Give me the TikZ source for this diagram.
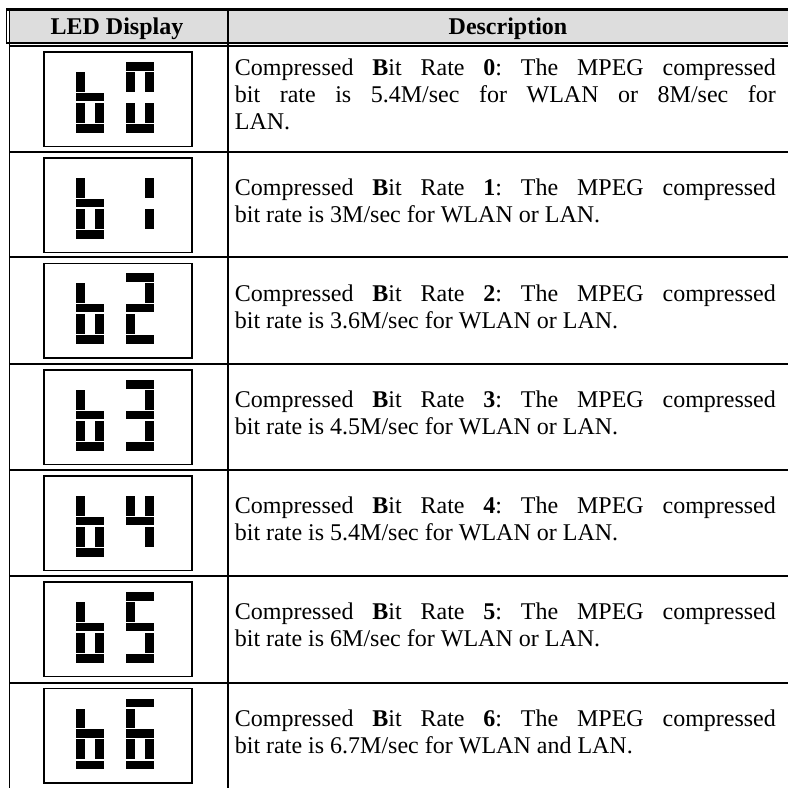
\documentclass[tikz,border=0pt]{standalone}
\usepackage{fontspec}
\setmainfont{Liberation Serif}
\frenchspacing
\definecolor{hdrgray}{RGB}{221,221,221}
\newcommand\ledsegA{\fill (0,10) rectangle (28,18.5);}
\newcommand\ledsegB{\fill (18.8,20) rectangle (28,39.5);}
\newcommand\ledsegC{\fill (18.8,50.5) rectangle (28,70.5);}
\newcommand\ledsegD{\fill (0,72) rectangle (28,80.5);}
\newcommand\ledsegE{\fill (0,50.5) rectangle (9.2,70.5);}
\newcommand\ledsegF{\fill (0,20) rectangle (9.2,39.5);}
\newcommand\ledsegG{\fill (0,40.5) rectangle (28,49);}
\newcommand\leddigit[3]{\begin{scope}[shift={(#1,#2)}]\foreach \s in {#3}{\csname ledseg\s\endcsname}\end{scope}}
\newcommand\ledrow[2]{%
  \draw[ledbox] (44,#1) rectangle (192,#1+94.5);
  \leddigit{76}{#1}{F,G,E,C,D}
  \leddigit{126}{#1}{#2}}
\newcommand\fullline[1]{\makebox[270.5pt][s]{#1}}
\begin{document}
\begin{tikzpicture}[x=0.5pt,y=-0.5pt,
  ledbox/.style={draw=black,line width=0.75pt},
  rowrule/.style={draw=black,line width=1.1pt},
  desc/.style={anchor=base west,inner sep=0pt,font=\fontsize{12}{13.5}\selectfont},
  hdr/.style={anchor=base,inner sep=0pt,font=\fontsize{12}{13.5}\selectfont\bfseries}]
\useasboundingbox (0,0) rectangle (788,788);
% header
\fill[hdrgray] (9.5,10.5) rectangle (788,42);
\draw[line width=1.35pt] (6,9.5) -- (788,9.5);
\draw[line width=0.65pt] (6.7,9) -- (6.7,43);
\draw[line width=0.7pt] (9.4,9) -- (9.4,788);
\draw[line width=1pt] (6,42.7) -- (788,42.7);
\draw[line width=0.85pt] (9,45.8) -- (788,45.8);
\draw[line width=1pt] (228,9) -- (228,788);
\foreach \y in {152,257.3,364,470,576,682.7} \draw[rowrule] (9,\y) -- (788,\y);
\node[hdr] (h1) at (117,34.3) {LED Display};
\node[hdr] (h2) at (508,34.3) {Description};
% LED displays
\ledrow{52}{A,F,B,E,C,D}
\ledrow{158}{B,C}
\ledrow{263.3}{A,B,G,E,D}
\ledrow{370}{A,B,G,C,D}
\ledrow{476}{F,B,G,C}
\ledrow{582}{A,F,G,C,D}
\ledrow{688.7}{A,F,G,E,C,D}
% descriptions
\node[desc] (d0) at (234.5,75) {\parbox[t]{270.5pt}{\fullline{Compressed \textbf{B}it Rate \textbf{0}: The MPEG compressed}\\\fullline{bit rate is 5.4M/sec for WLAN or 8M/sec for}\\LAN.}};
\node[desc] (d1) at (234.5,195.2) {\parbox[t]{270.5pt}{\fullline{Compressed \textbf{B}it Rate \textbf{1}: The MPEG compressed}\\bit rate is 3M/sec for WLAN or LAN.}};
\node[desc] (d2) at (234.5,301.2) {\parbox[t]{270.5pt}{\fullline{Compressed \textbf{B}it Rate \textbf{2}: The MPEG compressed}\\bit rate is 3.6M/sec for WLAN or LAN.}};
\node[desc] (d3) at (234.5,407.5) {\parbox[t]{270.5pt}{\fullline{Compressed \textbf{B}it Rate \textbf{3}: The MPEG compressed}\\bit rate is 4.5M/sec for WLAN or LAN.}};
\node[desc] (d4) at (234.5,513.5) {\parbox[t]{270.5pt}{\fullline{Compressed \textbf{B}it Rate \textbf{4}: The MPEG compressed}\\bit rate is 5.4M/sec for WLAN or LAN.}};
\node[desc] (d5) at (234.5,619.9) {\parbox[t]{270.5pt}{\fullline{Compressed \textbf{B}it Rate \textbf{5}: The MPEG compressed}\\bit rate is 6M/sec for WLAN or LAN.}};
\node[desc] (d6) at (234.5,726.2) {\parbox[t]{270.5pt}{\fullline{Compressed \textbf{B}it Rate \textbf{6}: The MPEG compressed}\\bit rate is 6.7M/sec for WLAN and LAN.}};
\end{tikzpicture}
\end{document}
